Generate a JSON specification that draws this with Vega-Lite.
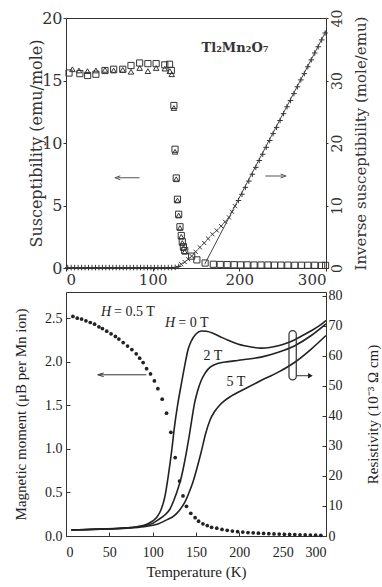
{
  "$schema": "https://vega.github.io/schema/vega-lite/v6.json",
  "padding": {"left": 13, "top": 8, "right": 0, "bottom": 0},
  "spacing": 0,
  "config": {
    "view": {"stroke": "#333", "strokeWidth": 1},
    "axis": {"grid": false, "domain": false, "labelColor": "#222", "titleColor": "#222", "tickColor": "#333", "titleFontWeight": "normal"}
  },
  "vconcat": [
    {
      "width": 260,
      "height": 250,
      "resolve": {"scale": {"y": "independent"}},
      "layer": [
        {
          "encoding": {
            "x": {"field": "T", "type": "quantitative", "scale": {"domain": [0, 300], "nice": false},
              "axis": {"values": [0, 100, 200, 300], "title": null, "labelFont": "DejaVu Serif", "labelFontSize": 15, "labelColor": "#333", "tickSize": 3, "labelPadding": 1}},
            "y": {"field": "y", "type": "quantitative", "scale": {"domain": [0, 20], "nice": false},
              "axis": {"values": [0, 5, 10, 15, 20], "title": "Susceptibility (emu/mole)", "titleFont": "DejaVu Serif", "titleFontSize": 16, "titleColor": "#333", "titlePadding": -3, "labelFont": "DejaVu Serif", "labelFontSize": 16, "labelColor": "#333", "tickSize": 3, "labelPadding": 1}}
          },
          "layer": [
            {
              "data": {"values": [
                {"T": 3.5, "y": 15.6}, {"T": 16, "y": 15.55}, {"T": 25, "y": 15.4}, {"T": 34.5, "y": 15.5}, {"T": 45, "y": 15.8},
                {"T": 55, "y": 15.9}, {"T": 65.5, "y": 15.9}, {"T": 75, "y": 16.2}, {"T": 85, "y": 16.4}, {"T": 94.5, "y": 16.35},
                {"T": 104, "y": 16.35}, {"T": 114, "y": 16.25}, {"T": 119.5, "y": 16.3}, {"T": 121.5, "y": 15.8}, {"T": 124.5, "y": 13.0},
                {"T": 125.8, "y": 9.5}, {"T": 127.2, "y": 7.2}, {"T": 128.6, "y": 5.5}, {"T": 130, "y": 4.3}, {"T": 131.5, "y": 3.3},
                {"T": 133, "y": 2.6}, {"T": 134.2, "y": 2.1}, {"T": 135.5, "y": 1.7}, {"T": 137, "y": 1.4}, {"T": 145, "y": 0.95},
                {"T": 151, "y": 0.65}, {"T": 160.5, "y": 0.4}, {"T": 170, "y": 0.3}, {"T": 178, "y": 0.28}, {"T": 186, "y": 0.27},
                {"T": 194, "y": 0.26}, {"T": 201.5, "y": 0.25}, {"T": 209, "y": 0.25}, {"T": 217, "y": 0.24}, {"T": 225, "y": 0.24},
                {"T": 233, "y": 0.24}, {"T": 240.5, "y": 0.23}, {"T": 248, "y": 0.23}, {"T": 256, "y": 0.23}, {"T": 264, "y": 0.22},
                {"T": 271.5, "y": 0.22}, {"T": 279, "y": 0.22}, {"T": 287, "y": 0.22}, {"T": 295, "y": 0.21}, {"T": 299.5, "y": 0.21}
              ]},
              "mark": {"type": "point", "shape": "square", "size": 38, "filled": false, "stroke": "#333", "strokeWidth": 1, "opacity": 1}
            },
            {
              "data": {"values": [
                {"T": 7.4, "y": 15.9}, {"T": 15, "y": 15.8}, {"T": 24.8, "y": 15.75}, {"T": 34.5, "y": 15.8}, {"T": 45, "y": 15.85},
                {"T": 55, "y": 15.8}, {"T": 65.5, "y": 15.85}, {"T": 75, "y": 15.7}, {"T": 85, "y": 16.0}, {"T": 94.5, "y": 15.75},
                {"T": 104, "y": 16.0}, {"T": 114, "y": 15.95}, {"T": 119.8, "y": 15.75}, {"T": 122, "y": 15.5}, {"T": 124.5, "y": 12.8},
                {"T": 125.8, "y": 9.3}, {"T": 127.2, "y": 7.1}, {"T": 128.6, "y": 5.4}, {"T": 130, "y": 4.2}, {"T": 131.5, "y": 3.2},
                {"T": 133, "y": 2.5}, {"T": 134.2, "y": 2.0}, {"T": 135.5, "y": 1.6}, {"T": 137, "y": 1.3}
              ]},
              "mark": {"type": "point", "shape": "triangle-up", "size": 30, "filled": false, "stroke": "#333", "strokeWidth": 1, "opacity": 1}
            },
            {
              "data": {"values": [{"T": 59.3, "T2": 84.9, "y": 7.22}, {"T": 230, "T2": 251, "y": 7.36}]},
              "mark": {"type": "rule", "stroke": "#555", "strokeWidth": 1},
              "encoding": {"x2": {"field": "T2"}}
            },
            {
              "data": {"values": [{"T": 59.5, "y": 7.22, "d": "left"}, {"T": 250.8, "y": 7.36, "d": "right"}]},
              "mark": {"type": "point", "filled": false, "stroke": "#555", "strokeWidth": 1, "size": 30, "opacity": 1},
              "encoding": {"shape": {"field": "d", "type": "nominal", "legend": null,
                "scale": {"domain": ["left", "right"], "range": ["M1,-0.7L-1,0L1,0.7", "M-1,-0.7L1,0L-1,0.7"]}}}
            },
            {
              "data": {"values": [{"T": 195, "y": 17.6, "label": "Tl₂Mn₂O₇"}]},
              "mark": {"type": "text", "font": "DejaVu Serif", "fontSize": 13, "fontWeight": "bold", "color": "#333"},
              "encoding": {"text": {"field": "label"}}
            }
          ]
        },
        {
          "encoding": {
            "x": {"field": "T", "type": "quantitative", "scale": {"domain": [0, 300], "nice": false},
              "axis": {"values": [0, 100, 200, 300], "title": null, "labelFont": "DejaVu Serif", "labelFontSize": 15, "labelColor": "#333", "tickSize": 3, "labelPadding": 1}},
            "y": {"field": "r", "type": "quantitative", "scale": {"domain": [0, 40], "nice": false},
              "axis": {"orient": "right", "values": [0, 10, 20, 30, 40], "title": "Inverse susceptibility (mole/emu)", "titleAngle": 270, "titleBaseline": "top", "titleFont": "DejaVu Serif", "titleFontSize": 15, "titleColor": "#333", "titlePadding": 9,
                "labelAngle": 270, "labelAlign": "center", "labelBaseline": "top", "labelFont": "DejaVu Serif", "labelFontSize": 14, "labelColor": "#333", "tickSize": 2, "labelPadding": 2}}
          },
          "layer": [
            {
              "data": {"values": [
                {"T": 2, "r": 0.06}, {"T": 6, "r": 0.06}, {"T": 10, "r": 0.06}, {"T": 14, "r": 0.06}, {"T": 18, "r": 0.06}, {"T": 22, "r": 0.06},
                {"T": 26, "r": 0.06}, {"T": 30, "r": 0.06}, {"T": 34, "r": 0.06}, {"T": 38, "r": 0.06}, {"T": 42, "r": 0.06}, {"T": 46, "r": 0.06},
                {"T": 50, "r": 0.06}, {"T": 54, "r": 0.06}, {"T": 58, "r": 0.06}, {"T": 62, "r": 0.06}, {"T": 66, "r": 0.06}, {"T": 70, "r": 0.06},
                {"T": 74, "r": 0.06}, {"T": 78, "r": 0.06}, {"T": 82, "r": 0.06}, {"T": 86, "r": 0.06}, {"T": 90, "r": 0.06}, {"T": 94, "r": 0.06},
                {"T": 98, "r": 0.06}, {"T": 102, "r": 0.06}, {"T": 106, "r": 0.06}, {"T": 110, "r": 0.06}, {"T": 114, "r": 0.06}, {"T": 118, "r": 0.07},
                {"T": 122, "r": 0.07}, {"T": 126, "r": 0.1}, {"T": 130, "r": 0.25},
                {"T": 199, "r": 10.8}, {"T": 203, "r": 11.8}, {"T": 207, "r": 12.9}, {"T": 211, "r": 13.9}, {"T": 215, "r": 15.0},
                {"T": 219, "r": 16.1}, {"T": 223, "r": 17.2}, {"T": 227, "r": 18.2}, {"T": 231, "r": 19.3}, {"T": 235, "r": 20.4},
                {"T": 239, "r": 21.5}, {"T": 243, "r": 22.5}, {"T": 247, "r": 23.6}, {"T": 251, "r": 24.7}, {"T": 255, "r": 25.8},
                {"T": 259, "r": 26.8}, {"T": 263, "r": 27.9}, {"T": 267, "r": 29.0}, {"T": 271, "r": 30.1}, {"T": 275, "r": 31.1},
                {"T": 279, "r": 32.2}, {"T": 283, "r": 33.3}, {"T": 287, "r": 34.4}, {"T": 291, "r": 35.4}, {"T": 295, "r": 36.5}, {"T": 299, "r": 37.6}
              ]},
              "mark": {"type": "point", "shape": "M-1,0H1M0,-1V1", "size": 30, "filled": false, "stroke": "#333", "strokeWidth": 1, "opacity": 1}
            },
            {
              "data": {"values": [
                {"T": 133, "r": 0.6}, {"T": 137, "r": 0.95}, {"T": 141, "r": 1.4}, {"T": 145, "r": 1.9}, {"T": 149.5, "r": 2.6},
                {"T": 154.5, "r": 3.3}, {"T": 159.5, "r": 4.0}, {"T": 164, "r": 4.7}, {"T": 169, "r": 5.4}, {"T": 174, "r": 6.0},
                {"T": 179, "r": 6.7}, {"T": 183.5, "r": 7.4}, {"T": 188, "r": 8.1}, {"T": 191.5, "r": 9.0}, {"T": 195, "r": 9.9}
              ]},
              "mark": {"type": "point", "shape": "M-0.8,-0.8L0.8,0.8M-0.8,0.8L0.8,-0.8", "size": 26, "filled": false, "stroke": "#333", "strokeWidth": 1, "opacity": 1}
            },
            {
              "data": {"values": [{"T": 160, "r": 0.6}, {"T": 300, "r": 37.9}]},
              "mark": {"type": "line", "stroke": "#444", "strokeWidth": 1}
            }
          ]
        }
      ]
    },
    {
      "width": 260,
      "height": 244,
      "resolve": {"scale": {"y": "independent"}},
      "layer": [
        {
          "encoding": {
            "x": {"field": "T", "type": "quantitative", "scale": {"domain": [0, 300], "nice": false},
              "axis": {"values": [0, 50, 100, 150, 200, 250, 300], "title": "Temperature (K)", "titleFont": "Liberation Serif", "titleFontSize": 15, "titlePadding": 5,
                "labelFont": "Liberation Serif", "labelFontSize": 14, "tickSize": -4, "labelPadding": 13}},
            "y": {"field": "y", "type": "quantitative", "scale": {"domain": [0, 2.8], "nice": false},
              "axis": {"values": [0, 0.5, 1, 1.5, 2, 2.5], "format": ".1f", "title": "Magnetic moment (μB per Mn ion)", "titleFont": "Liberation Serif", "titleFontSize": 15, "titlePadding": 16,
                "labelFont": "Liberation Serif", "labelFontSize": 14, "tickSize": -4, "labelPadding": 8}}
          },
          "layer": [
            {
              "data": {"values": [
                {"T": 8, "y": 2.52}, {"T": 13, "y": 2.5}, {"T": 18, "y": 2.49}, {"T": 23, "y": 2.47}, {"T": 28, "y": 2.45},
                {"T": 33, "y": 2.43}, {"T": 38, "y": 2.4}, {"T": 42, "y": 2.38}, {"T": 47, "y": 2.35}, {"T": 52, "y": 2.32},
                {"T": 57, "y": 2.29}, {"T": 61, "y": 2.26}, {"T": 66, "y": 2.22}, {"T": 71, "y": 2.18}, {"T": 76, "y": 2.14},
                {"T": 81, "y": 2.09}, {"T": 85, "y": 2.04}, {"T": 89, "y": 1.99}, {"T": 93, "y": 1.92}, {"T": 97.5, "y": 1.86},
                {"T": 102, "y": 1.78}, {"T": 106, "y": 1.69}, {"T": 111, "y": 1.57}, {"T": 116, "y": 1.41}, {"T": 121, "y": 1.19},
                {"T": 126, "y": 0.9}, {"T": 131, "y": 0.63}, {"T": 135, "y": 0.46}, {"T": 139, "y": 0.34}, {"T": 144, "y": 0.26},
                {"T": 149, "y": 0.21}, {"T": 153, "y": 0.17}, {"T": 158, "y": 0.14}, {"T": 163, "y": 0.12}, {"T": 168, "y": 0.1},
                {"T": 174, "y": 0.09}, {"T": 180, "y": 0.075}, {"T": 186, "y": 0.065}, {"T": 192, "y": 0.057}, {"T": 198, "y": 0.05},
                {"T": 204, "y": 0.045}, {"T": 210, "y": 0.04}, {"T": 216, "y": 0.036}, {"T": 222, "y": 0.032}, {"T": 228, "y": 0.029},
                {"T": 234, "y": 0.026}, {"T": 240, "y": 0.024}, {"T": 246, "y": 0.022}, {"T": 252, "y": 0.02}, {"T": 258, "y": 0.018},
                {"T": 264, "y": 0.016}, {"T": 270, "y": 0.014}, {"T": 276, "y": 0.012}, {"T": 282, "y": 0.011}, {"T": 288, "y": 0.01},
                {"T": 294, "y": 0.008}
              ]},
              "mark": {"type": "point", "shape": "circle", "size": 14, "filled": true, "color": "#222", "opacity": 1}
            },
            {
              "data": {"values": [{"T": 39, "T2": 92.7, "y": 1.85}]},
              "mark": {"type": "rule", "stroke": "#333", "strokeWidth": 1},
              "encoding": {"x2": {"field": "T2"}}
            },
            {
              "data": {"values": [{"T": 40, "y": 1.85}]},
              "mark": {"type": "point", "shape": "M1,-0.6L-1,0L1,0.6", "filled": false, "stroke": "#333", "strokeWidth": 1, "size": 36, "opacity": 1}
            },
            {
              "data": {"values": [{"T": 40.4, "y": 2.57, "label": "H"}, {"T": 114.2, "y": 2.45, "label": "H"}]},
              "mark": {"type": "text", "align": "left", "font": "Liberation Serif", "fontSize": 14, "fontStyle": "italic", "color": "#222"},
              "encoding": {"text": {"field": "label"}}
            },
            {
              "data": {"values": [{"T": 55.5, "y": 2.57, "label": "= 0.5 T"}, {"T": 129.5, "y": 2.45, "label": "= 0 T"}]},
              "mark": {"type": "text", "align": "left", "font": "Liberation Serif", "fontSize": 14, "color": "#222"},
              "encoding": {"text": {"field": "label"}}
            },
            {
              "data": {"values": [{"T": 169.6, "y": 2.06, "label": "2 T"}, {"T": 196, "y": 1.77, "label": "5 T"}]},
              "mark": {"type": "text", "align": "center", "font": "Liberation Serif", "fontSize": 14, "color": "#222"},
              "encoding": {"text": {"field": "label"}}
            }
          ]
        },
        {
          "encoding": {
            "x": {"field": "T", "type": "quantitative", "scale": {"domain": [0, 300], "nice": false},
              "axis": {"values": [0, 50, 100, 150, 200, 250, 300], "title": "Temperature (K)", "titleFont": "Liberation Serif", "titleFontSize": 15, "titlePadding": 5,
                "labelFont": "Liberation Serif", "labelFontSize": 14, "tickSize": -4, "labelPadding": 13}},
            "y": {"field": "r", "type": "quantitative", "scale": {"domain": [0, 81.3], "nice": false},
              "axis": {"orient": "right", "values": [0, 10, 20, 30, 40, 50, 60, 70, 80], "title": "Resistivity (10⁻³ Ω cm)", "titleAngle": 270, "titleBaseline": "top", "titleFont": "Liberation Serif", "titleFontSize": 15, "titlePadding": 23,
                "labelFont": "Liberation Serif", "labelFontSize": 14, "tickSize": -4, "labelPadding": 6}}
          },
          "layer": [
            {
              "data": {"values": [
                {"H": "0", "T": 6, "r": 2.0}, {"H": "0", "T": 20, "r": 2.1}, {"H": "0", "T": 40, "r": 2.3}, {"H": "0", "T": 60, "r": 2.5},
                {"H": "0", "T": 70, "r": 2.7}, {"H": "0", "T": 80, "r": 3.0}, {"H": "0", "T": 90, "r": 3.6}, {"H": "0", "T": 95, "r": 4.2},
                {"H": "0", "T": 100, "r": 5.0}, {"H": "0", "T": 105, "r": 6.3}, {"H": "0", "T": 110, "r": 9.0}, {"H": "0", "T": 114, "r": 13},
                {"H": "0", "T": 118, "r": 20}, {"H": "0", "T": 122, "r": 28.5}, {"H": "0", "T": 125, "r": 36}, {"H": "0", "T": 129, "r": 44},
                {"H": "0", "T": 133, "r": 50.5}, {"H": "0", "T": 137, "r": 56.8}, {"H": "0", "T": 141, "r": 62.3}, {"H": "0", "T": 145, "r": 65.2},
                {"H": "0", "T": 150, "r": 67.3}, {"H": "0", "T": 156, "r": 68.3}, {"H": "0", "T": 162, "r": 68.2}, {"H": "0", "T": 170, "r": 67.5},
                {"H": "0", "T": 178, "r": 66.4}, {"H": "0", "T": 187, "r": 65.2}, {"H": "0", "T": 198, "r": 64.0}, {"H": "0", "T": 206, "r": 63.4},
                {"H": "0", "T": 215, "r": 62.9}, {"H": "0", "T": 225, "r": 62.6}, {"H": "0", "T": 235, "r": 62.8}, {"H": "0", "T": 245, "r": 63.4},
                {"H": "0", "T": 255, "r": 64.3}, {"H": "0", "T": 264, "r": 65.4}, {"H": "0", "T": 273, "r": 66.8}, {"H": "0", "T": 283, "r": 68.4},
                {"H": "0", "T": 292, "r": 70.0}, {"H": "0", "T": 300, "r": 71.8},
                {"H": "2", "T": 6, "r": 2.0}, {"H": "2", "T": 40, "r": 2.3}, {"H": "2", "T": 70, "r": 2.7}, {"H": "2", "T": 90, "r": 3.4},
                {"H": "2", "T": 100, "r": 4.2}, {"H": "2", "T": 107, "r": 5.5}, {"H": "2", "T": 114, "r": 7.0}, {"H": "2", "T": 120, "r": 9.0},
                {"H": "2", "T": 125, "r": 12.3}, {"H": "2", "T": 130, "r": 16.5}, {"H": "2", "T": 133, "r": 19.5}, {"H": "2", "T": 136, "r": 23.5},
                {"H": "2", "T": 139, "r": 28}, {"H": "2", "T": 142, "r": 33}, {"H": "2", "T": 145, "r": 38.5}, {"H": "2", "T": 148.5, "r": 44.5},
                {"H": "2", "T": 152, "r": 48.5}, {"H": "2", "T": 156, "r": 51.8}, {"H": "2", "T": 160, "r": 54}, {"H": "2", "T": 164, "r": 55.6},
                {"H": "2", "T": 170, "r": 56.9}, {"H": "2", "T": 175, "r": 57.5}, {"H": "2", "T": 187, "r": 58.1}, {"H": "2", "T": 198, "r": 58.5},
                {"H": "2", "T": 206, "r": 58.8}, {"H": "2", "T": 225, "r": 59.6}, {"H": "2", "T": 245, "r": 61.2}, {"H": "2", "T": 264, "r": 63.4},
                {"H": "2", "T": 283, "r": 66.8}, {"H": "2", "T": 300, "r": 70.7},
                {"H": "5", "T": 6, "r": 2.0}, {"H": "5", "T": 40, "r": 2.3}, {"H": "5", "T": 70, "r": 2.6}, {"H": "5", "T": 90, "r": 3.1},
                {"H": "5", "T": 100, "r": 3.6}, {"H": "5", "T": 106, "r": 4.0}, {"H": "5", "T": 115, "r": 5.2}, {"H": "5", "T": 125, "r": 6.8},
                {"H": "5", "T": 131, "r": 8.6}, {"H": "5", "T": 137, "r": 11.2}, {"H": "5", "T": 142, "r": 14.5}, {"H": "5", "T": 146.5, "r": 18},
                {"H": "5", "T": 151, "r": 22.5}, {"H": "5", "T": 156, "r": 28}, {"H": "5", "T": 161, "r": 34}, {"H": "5", "T": 166, "r": 38.5},
                {"H": "5", "T": 171.5, "r": 41.5}, {"H": "5", "T": 177, "r": 43.5}, {"H": "5", "T": 183, "r": 45.1}, {"H": "5", "T": 190, "r": 46.5},
                {"H": "5", "T": 198, "r": 47.8}, {"H": "5", "T": 206, "r": 49}, {"H": "5", "T": 225, "r": 51.8}, {"H": "5", "T": 245, "r": 54.6},
                {"H": "5", "T": 264, "r": 57.9}, {"H": "5", "T": 283, "r": 62.3}, {"H": "5", "T": 300, "r": 66.8}
              ]},
              "mark": {"type": "line", "interpolate": "monotone", "stroke": "#222", "strokeWidth": 1.6},
              "encoding": {"detail": {"field": "H", "type": "nominal"}}
            },
            {
              "data": {"values": [{"T": 257.3, "T2": 265.7, "r": 52, "r2": 68.4}]},
              "mark": {"type": "rect", "filled": false, "stroke": "#333", "strokeWidth": 1.2, "cornerRadius": 4},
              "encoding": {"x2": {"field": "T2"}, "y2": {"field": "r2"}}
            },
            {
              "data": {"values": [{"T": 265.7, "T2": 282, "r": 53.4}]},
              "mark": {"type": "rule", "stroke": "#333", "strokeWidth": 1},
              "encoding": {"x2": {"field": "T2"}}
            },
            {
              "data": {"values": [{"T": 282, "r": 53.4}]},
              "mark": {"type": "point", "shape": "triangle-right", "filled": true, "color": "#222", "size": 30, "opacity": 1}
            }
          ]
        }
      ]
    }
  ]
}
